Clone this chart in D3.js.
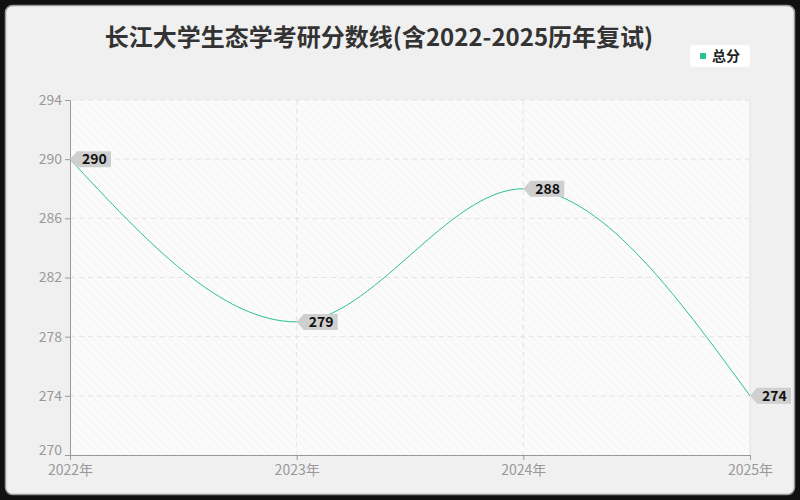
<html>
<head>
<meta charset="utf-8">
<script src="https://d3js.org/d3.v7.min.js"></script>
<style>
  body { margin: 0; background: #111; }
  text { font-family: "Noto Sans CJK SC", "Noto Sans", sans-serif; }
</style>
</head>
<body></body>
<script>
const years = ['2022', '2023', '2024', '2025'];
const scores = [290, 279, 288, 274];
const yTicks = [270, 274, 278, 282, 286, 290, 294];
const title = '长江大学生态学考研分数线(含2022-2025历年复试)';
const seriesName = '总分';

const width = 800;
const height = 500;
const margin = {top: 100, right: 50, bottom: 45, left: 70};
const lineColor = '#2cc28e';

const svg = d3.select('body')
  .append('svg')
  .attr('width', width)
  .attr('height', height);

// hatch pattern for the plot background
const defs = svg.append('defs');
const pat = defs.append('pattern')
  .attr('id', 'hatch')
  .attr('patternUnits', 'userSpaceOnUse')
  .attr('width', 6)
  .attr('height', 6)
  .attr('patternTransform', 'rotate(-45)');
pat.append('rect').attr('width', 6).attr('height', 6).attr('fill', '#fbfbfb');
pat.append('line')
  .attr('x1', 0).attr('y1', 0).attr('x2', 0).attr('y2', 6)
  .attr('stroke', '#f0f0f0').attr('stroke-width', 1);

// outer card
svg.append('rect')
  .attr('x', 5.5).attr('y', 5.5)
  .attr('width', width - 11).attr('height', height - 11)
  .attr('rx', 7)
  .attr('fill', '#f0f0f0')
  .attr('stroke', '#999')
  .attr('stroke-width', 1.5);

svg.append('text')
  .attr('x', 379)
  .attr('y', 46)
  .attr('text-anchor', 'middle')
  .attr('font-size', 24)
  .attr('font-weight', 'bold')
  .attr('fill', '#333')
  .text(title);

// legend
const legend = svg.append('g').attr('transform', 'translate(690,45)');
legend.append('rect')
  .attr('width', 60).attr('height', 22).attr('rx', 4)
  .attr('fill', '#fff');
legend.append('rect')
  .attr('x', 10).attr('y', 8).attr('width', 6).attr('height', 6)
  .attr('fill', lineColor);
legend.append('text')
  .attr('x', 22).attr('y', 16)
  .attr('font-size', 14)
  .attr('font-weight', 'bold')
  .attr('fill', '#222')
  .text(seriesName);

const x = d3.scalePoint()
  .domain(years)
  .range([margin.left, width - margin.right]);

const y = d3.scaleLinear()
  .domain([270, 294])
  .range([height - margin.bottom, margin.top]);

const plot = svg.append('g');

plot.append('rect')
  .attr('x', margin.left)
  .attr('y', margin.top)
  .attr('width', width - margin.left - margin.right)
  .attr('height', height - margin.top - margin.bottom)
  .attr('fill', 'url(#hatch)');

// grid
plot.append('g')
  .selectAll('line')
  .data(yTicks.slice(1))
  .join('line')
  .attr('x1', margin.left).attr('x2', width - margin.right)
  .attr('y1', d => y(d)).attr('y2', d => y(d))
  .attr('stroke', '#e4e4e4')
  .attr('stroke-dasharray', '5,4');

plot.append('g')
  .selectAll('line')
  .data(years.slice(1))
  .join('line')
  .attr('x1', d => x(d)).attr('x2', d => x(d))
  .attr('y1', margin.top).attr('y2', height - margin.bottom)
  .attr('stroke', '#e4e4e4')
  .attr('stroke-dasharray', d => d === years[years.length - 1] ? null : '5,4');

// axes
const yAxis = svg.append('g')
  .attr('transform', `translate(${margin.left},0)`)
  .call(d3.axisLeft(y).tickValues(yTicks).tickSize(5).tickPadding(3));
const xAxis = svg.append('g')
  .attr('transform', `translate(0,${height - margin.bottom})`)
  .call(d3.axisBottom(x).tickSize(5).tickPadding(5).tickFormat(d => d + '年'));

[yAxis, xAxis].forEach(a => {
  a.select('.domain').attr('stroke', '#999');
  a.selectAll('.tick line').attr('stroke', '#999');
  a.selectAll('.tick text')
    .attr('fill', '#999')
    .attr('font-size', 14)
    .attr('font-family', '"Noto Sans CJK SC", sans-serif');
});
// keep the lowest y label clear of the first x label
yAxis.selectAll('.tick text').filter(d => d === yTicks[0]).attr('dy', '-0.05em');

const pts = years.map((d, i) => [x(d), y(scores[i])]);

plot.append('path')
  .datum(pts)
  .attr('fill', 'none')
  .attr('stroke', lineColor)
  .attr('stroke-width', 1)
  .attr('d', d3.line().curve(d3.curveMonotoneX));

// value tags
const tags = svg.append('g')
  .selectAll('g')
  .data(pts)
  .join('g')
  .attr('transform', d => `translate(${d[0]},${d[1]})`);

tags.append('path')
  .attr('d', 'M0,0 L7,-8 L41,-8 L41,8 L7,8 Z')
  .attr('fill', '#cfcfcf');

tags.append('text')
  .attr('x', 12)
  .attr('y', 5)
  .attr('font-size', 14)
  .attr('font-weight', 'bold')
  .attr('fill', '#111')
  .text((d, i) => scores[i]);
</script>
</html>
